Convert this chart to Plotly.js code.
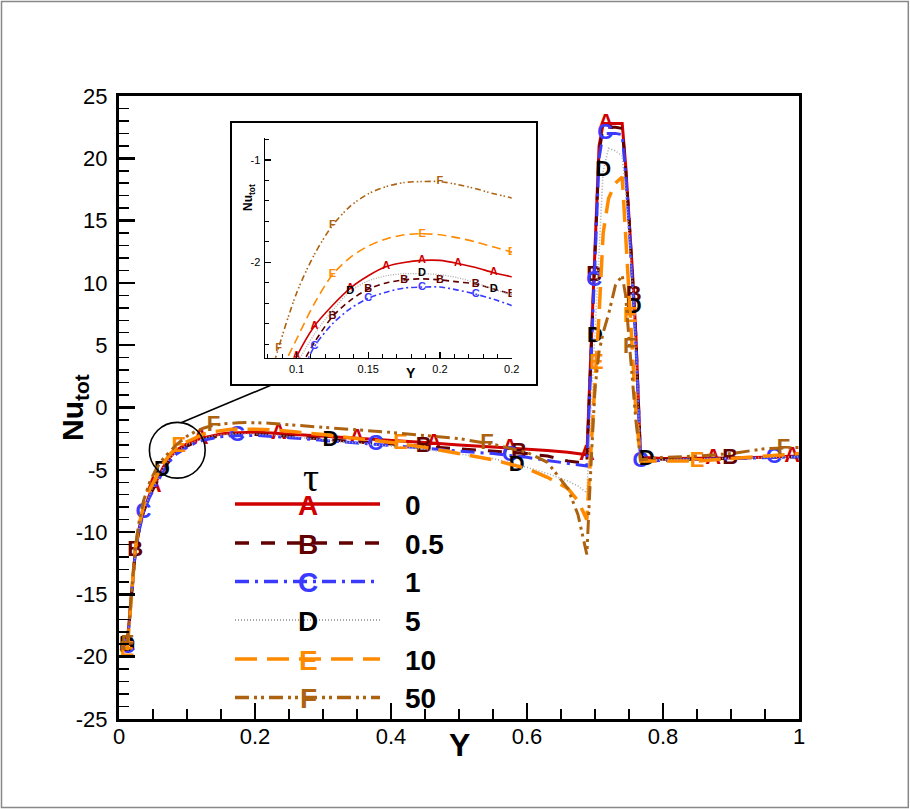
<!DOCTYPE html>
<html><head><meta charset="utf-8">
<script src="https://cdn.plot.ly/plotly-3.0.1.min.js"></script>
<style>html,body{margin:0;padding:0;background:#fff}#plot{width:910px;height:809px}</style>
</head><body><div id="plot"></div>
<script>
// ---- data ----
const Y = [0.012,0.018,0.024,0.03,0.036,0.045,0.055,0.065,0.075,0.085,0.1,0.1125,0.125,0.1375,0.15,0.1625,0.175,0.1875,0.2,0.2125,0.225,0.2375,0.25,0.3,0.35,0.4,0.45,0.5,0.55,0.6,0.63,0.66,0.675,0.688,0.694,0.70,0.706,0.712,0.72,0.73,0.74,0.745,0.75,0.755,0.76,0.767,0.8,0.85,0.9,0.95,1.0];
const nu_tau0   = [-19.0,-15.0,-11.5,-9.6,-8.3,-7.0,-5.9,-4.8,-4.0,-3.4,-2.92,-2.62,-2.42,-2.25,-2.13,-2.04,-2.0,-1.98,-1.98,-2.01,-2.05,-2.10,-2.14,-2.3,-2.45,-2.6,-2.8,-3.0,-3.15,-3.35,-3.45,-3.6,-3.7,-3.8,4.5,12.5,21.0,22.8,22.8,22.8,22.8,19.5,15.5,11.0,6.0,-4.0,-4.1,-4.1,-4.05,-4.0,-3.9];
const nu_tau0_5 = [-19.2,-15.2,-11.5,-9.7,-8.4,-7.1,-6.0,-5.0,-4.2,-3.6,-3.1,-2.78,-2.53,-2.37,-2.26,-2.2,-2.17,-2.16,-2.17,-2.19,-2.21,-2.26,-2.31,-2.55,-2.75,-2.95,-3.15,-3.35,-3.5,-3.7,-3.9,-4.3,-4.4,-4.5,4.0,12.0,20.5,22.5,22.5,22.5,22.4,19.2,15.2,10.8,5.8,-4.1,-4.15,-4.15,-4.05,-4.0,-3.95];
const nu_tau1   = [-19.3,-15.3,-11.6,-9.8,-8.4,-7.2,-6.1,-5.1,-4.3,-3.7,-3.2,-2.82,-2.6,-2.45,-2.35,-2.29,-2.25,-2.24,-2.24,-2.27,-2.31,-2.36,-2.42,-2.65,-2.85,-3.05,-3.3,-3.5,-3.7,-4.0,-4.25,-4.5,-4.6,-4.7,3.5,11.5,20.0,22.0,22.0,22.0,21.9,18.8,14.8,10.4,5.4,-4.3,-4.25,-4.2,-4.1,-4.0,-3.95];
const nu_tau5   = [-19.1,-15.1,-11.5,-9.6,-8.3,-7.0,-5.9,-4.85,-4.05,-3.5,-3.0,-2.7,-2.47,-2.28,-2.18,-2.13,-2.11,-2.11,-2.12,-2.15,-2.2,-2.26,-2.32,-2.6,-2.85,-3.1,-3.35,-3.75,-4.1,-4.8,-5.3,-5.9,-6.3,-6.85,-0.5,5.7,12.5,19.0,20.8,20.6,20.2,17.5,14.0,10.0,5.0,-4.2,-4.2,-4.15,-4.1,-4.0,-3.95];
const nu_tau10  = [-19.5,-15.0,-11.3,-9.3,-7.9,-6.6,-5.5,-4.5,-3.75,-3.2,-2.75,-2.4,-2.12,-1.95,-1.84,-1.77,-1.73,-1.72,-1.73,-1.76,-1.8,-1.85,-1.9,-2.17,-2.45,-2.8,-3.2,-3.7,-4.2,-4.9,-5.6,-6.5,-7.5,-9.0,-3.6,1.5,7.5,14.0,16.8,18.0,18.5,13.9,9.2,4.5,-0.2,-4.3,-4.3,-4.3,-4.1,-3.9,-3.7];
const nu_tau50  = [-19.0,-15.0,-11.2,-9.0,-7.5,-6.0,-4.9,-4.1,-3.5,-2.95,-2.3,-1.92,-1.64,-1.45,-1.33,-1.26,-1.22,-1.21,-1.21,-1.24,-1.28,-1.33,-1.37,-1.6,-1.8,-2.0,-2.25,-2.5,-2.95,-3.6,-4.4,-6.5,-8.6,-11.8,-4.7,1.5,4.5,6.0,7.5,9.8,10.6,9.0,5.5,2.0,-1.0,-4.2,-4.0,-3.9,-3.7,-3.3,-3.2];

const tauLabels = ['0','0.5','1','5','10','50'];
const symbols   = ['A','B','C','D','E','F'];

// symbol positions on main plot
const markA_x = [0.012,0.051,0.12,0.235,0.35,0.463,0.575,0.688,0.716,0.874,0.99];
const markA_y = [-19.0,-6.35,-2.5,-2.09,-2.45,-2.85,-3.25,-3.8,22.8,-4.1,-3.92];
const markB_x = [0.012,0.024,0.448,0.588,0.699,0.757,0.899];
const markB_y = [-19.2,-11.5,-3.14,-3.62,10.6,9.0,-4.06];
const markC_x = [0.012,0.036,0.1735,0.377,0.575,0.699,0.715,0.767,0.963];
const markC_y = [-19.3,-8.4,-2.25,-2.96,-3.85,10.2,22.0,-4.3,-3.99];
const markD_x = [0.012,0.063,0.311,0.585,0.700,0.712,0.757,0.776];
const markD_y = [-19.1,-5.05,-2.66,-4.66,5.7,19.0,8.0,-4.2];
const markE_x = [0.012,0.088,0.414,0.702,0.752,0.85];
const markE_y = [-19.5,-3.14,-2.91,3.5,7.3,-4.3];
const markF_x = [0.012,0.139,0.541,0.751,0.977];
const markF_y = [-19.0,-1.44,-2.87,4.8,-3.25];

// symbol positions in the zoomed inset
const inA_x = [0.1,0.1125,0.1375,0.1625,0.1875,0.2125,0.2375];
const inA_y = [-2.92,-2.62,-2.25,-2.04,-1.98,-2.01,-2.10];
const inB_x = [0.125,0.15,0.175,0.2,0.225,0.25];
const inB_y = [-2.53,-2.26,-2.17,-2.17,-2.21,-2.31];
const inC_x = [0.1125,0.15,0.1875,0.225];
const inC_y = [-2.82,-2.35,-2.24,-2.31];
const inD_x = [0.1375,0.1875,0.2375];
const inD_y = [-2.28,-2.11,-2.26];
const inE_x = [0.125,0.1875,0.25];
const inE_y = [-2.12,-1.72,-1.9];
const inF_x = [0.0875,0.125,0.2];
const inF_y = [-2.84,-1.64,-1.21];

const xTickVals = [0,0.2,0.4,0.6,0.8,1];
const xTickText = ['0','0.2','0.4','0.6','0.8','1'];
const yTickVals = [-25,-20,-15,-10,-5,0,5,10,15,20,25];
const yTickText = ['-25','-20','-15','-10','-5','0','5','10','15','20','25'];
const inXTickVals = [0.1,0.15,0.2,0.25];
const inXTickText = ['0.1','0.15','0.2','0.2'];
const inYTickVals = [-2,-1];
const inYTickText = ['-2','-1'];

// ---- styles ----
const series = [
  {y:nu_tau0,   mx:markA_x, my:markA_y, ix:inA_x, iy:inA_y, color:'#d00000', mcolor:'#d00000', w:3,   dash:'solid', idash:'solid'},
  {y:nu_tau0_5, mx:markB_x, my:markB_y, ix:inB_x, iy:inB_y, color:'#600000', mcolor:'#600000', w:3,   dash:'14px,12px', idash:'6px,4px'},
  {y:nu_tau1,   mx:markC_x, my:markC_y, ix:inC_x, iy:inC_y, color:'#3a3aff', mcolor:'#3a3aff', w:3,   dash:'14px,6px,3px,6px', idash:'6px,3px,2px,3px'},
  {y:nu_tau5,   mx:markD_x, my:markD_y, ix:inD_x, iy:inD_y, color:'#a8a8a8', mcolor:'#000000', w:1.6, dash:'1px,2px', idash:'1px,1.5px'},
  {y:nu_tau10,  mx:markE_x, my:markE_y, ix:inE_x, iy:inE_y, color:'#ff8a00', mcolor:'#ff8a00', w:3.5, dash:'22px,10px', idash:'9px,5px'},
  {y:nu_tau50,  mx:markF_x, my:markF_y, ix:inF_x, iy:inF_y, color:'#ad6210', mcolor:'#ad6210', w:3,   dash:'14px,5px,3px,4px,3px,5px', idash:'6px,3px,1.5px,2px,1.5px,3px'}
];

const FONT = 'Liberation Sans, Arial, sans-serif';
const traces = [];
series.forEach((s,i)=>{
  traces.push({x:Y, y:s.y, type:'scatter', mode:'lines', xaxis:'x', yaxis:'y',
    line:{color:s.color, width:s.w, dash:s.dash}, hoverinfo:'skip'});
  traces.push({x:s.mx, y:s.my, type:'scatter', mode:'text', xaxis:'x', yaxis:'y',
    text:s.mx.map(()=>symbols[i]), textposition:'middle center', cliponaxis:false,
    textfont:{family:FONT, size:22, color:s.mcolor, weight:'bold'}, hoverinfo:'skip'});
});
series.forEach((s,i)=>{
  traces.push({x:Y, y:s.y, type:'scatter', mode:'lines', xaxis:'x2', yaxis:'y2',
    line:{color:s.color, width:Math.min(s.w,1.6)*(i===3?0.8:1), dash:s.idash, shape:'spline', smoothing:0.8}, hoverinfo:'skip'});
  traces.push({x:s.ix, y:s.iy, type:'scatter', mode:'text', xaxis:'x2', yaxis:'y2',
    text:s.ix.map(()=>symbols[i]), textposition:'middle center', cliponaxis:true,
    textfont:{family:FONT, size:11, color:s.mcolor, weight:'bold'}, hoverinfo:'skip'});
});

// pixel -> paper helpers (plot area: x 119..799, y 96..719)
const PX = p => (p-119)/680;
const PY = p => (719-p)/623;

const shapes = [
  {type:'rect', xref:'paper', yref:'paper', x0:PX(1.5), x1:PX(908.3), y0:PY(807.5), y1:PY(1.5), line:{color:'#888', width:1.5}},
  {type:'rect', xref:'paper', yref:'paper', x0:PX(231), x1:PX(537), y0:PY(385), y1:PY(122), line:{color:'#000', width:2}},
  {type:'circle', xref:'x', yref:'y', x0:0.0447, x1:0.1267, y0:-5.67, y1:-1.19, line:{color:'#000', width:1.6}},
  {type:'line', xref:'x', yref:'y', x0:0.0912, y0:-1.23, x1:0.2225, y1:1.77, line:{color:'#000', width:1.6}}
];
const annotations = [
  {xref:'paper', yref:'paper', x:PX(74), y:PY(408), text:'<b>Nu<sub>tot</sub></b>', textangle:-90, showarrow:false,
   font:{family:FONT, size:30, color:'#000'}, xanchor:'center', yanchor:'middle'},
  {xref:'paper', yref:'paper', x:PX(459), y:PY(745), text:'<b>Y</b>', showarrow:false,
   font:{family:FONT, size:32, color:'#000'}, xanchor:'center', yanchor:'middle'},
  {xref:'paper', yref:'paper', x:PX(249), y:PY(198), text:'<b>Nu<sub>tot</sub></b>', textangle:-90, showarrow:false,
   font:{family:FONT, size:12, color:'#000'}, xanchor:'center', yanchor:'middle'},
  {xref:'paper', yref:'paper', x:PX(411), y:PY(373), text:'<b>Y</b>', showarrow:false,
   font:{family:FONT, size:14, color:'#000'}, xanchor:'center', yanchor:'middle'},
  {xref:'paper', yref:'paper', x:PX(311), y:PY(477), text:'τ', showarrow:false,
   font:{family:'Liberation Serif, DejaVu Serif, serif', size:40, color:'#000'}, xanchor:'center', yanchor:'middle'}
];
const legRowY = [504, 543, 581.5, 620, 659, 697.5];
series.forEach((s,i)=>{
  shapes.push({type:'line', xref:'paper', yref:'paper', x0:PX(235), x1:PX(380), y0:PY(legRowY[i]), y1:PY(legRowY[i]),
    line:{color:s.color, width:(i===3?2:3.5), dash:s.dash}});
  annotations.push({xref:'paper', yref:'paper', x:PX(308), y:PY(legRowY[i]+1), text:'<b>'+symbols[i]+'</b>', showarrow:false,
    font:{family:FONT, size:28, color:s.mcolor}, xanchor:'center', yanchor:'middle'});
  annotations.push({xref:'paper', yref:'paper', x:PX(403), y:PY(legRowY[i]+1), text:'<b>'+tauLabels[i]+'</b>', showarrow:false,
    font:{family:FONT, size:28, color:'#000'}, xanchor:'left', yanchor:'middle'});
});

const layout = {
  width:910, height:809, margin:{l:119, r:111, t:96, b:90},
  paper_bgcolor:'#fff', plot_bgcolor:'rgba(0,0,0,0)', showlegend:false,
  xaxis:{domain:[0,1], range:[0,1], anchor:'y', showline:true, linewidth:3, linecolor:'#000', mirror:true,
    showgrid:false, zeroline:false, ticks:'inside', ticklen:16, tickwidth:2.5, tickcolor:'#000',
    tickmode:'array', tickvals:xTickVals, ticktext:xTickText, ticklabelstandoff:-4,
    tickfont:{family:FONT, size:22, color:'#000'},
    minor:{tickmode:'linear', tick0:0, dtick:0.05, ticks:'inside', ticklen:10, tickwidth:1.5, tickcolor:'#000', showgrid:false}},
  yaxis:{domain:[0,1], range:[-25,25], anchor:'x', showline:true, linewidth:3, linecolor:'#000', mirror:true,
    showgrid:false, zeroline:false, ticks:'inside', ticklen:16, tickwidth:2.5, tickcolor:'#000',
    tickmode:'array', tickvals:yTickVals, ticktext:yTickText, ticklabelstandoff:4,
    tickfont:{family:FONT, size:22, color:'#000'},
    minor:{tickmode:'linear', tick0:0, dtick:1, ticks:'inside', ticklen:10, tickwidth:1.5, tickcolor:'#000', showgrid:false}},
  xaxis2:{domain:[PX(265), PX(511.7)], range:[0.078,0.25], anchor:'y2', showline:true, linewidth:1.5, linecolor:'#000',
    showgrid:false, zeroline:false, ticks:'inside', ticklen:6, tickwidth:1.2, tickcolor:'#000',
    tickmode:'array', tickvals:inXTickVals, ticktext:inXTickText, ticklabelstandoff:1,
    tickfont:{family:FONT, size:11, color:'#000'},
    minor:{tickmode:'linear', tick0:0, dtick:0.01, ticks:'inside', ticklen:3.5, tickwidth:1, tickcolor:'#000', showgrid:false}},
  yaxis2:{domain:[PY(357.7), PY(138)], range:[-2.93,-0.785], anchor:'x2', showline:true, linewidth:1.5, linecolor:'#000',
    showgrid:false, zeroline:false, ticks:'inside', ticklen:6, tickwidth:1.2, tickcolor:'#000',
    tickmode:'array', tickvals:inYTickVals, ticktext:inYTickText, ticklabelstandoff:1,
    tickfont:{family:FONT, size:11, color:'#000'},
    minor:{tickmode:'linear', tick0:-1, dtick:0.2, ticks:'inside', ticklen:3.5, tickwidth:1, tickcolor:'#000', showgrid:false}},
  shapes:shapes, annotations:annotations
};
Plotly.newPlot('plot', traces, layout, {displayModeBar:false, staticPlot:true});
</script></body></html>
